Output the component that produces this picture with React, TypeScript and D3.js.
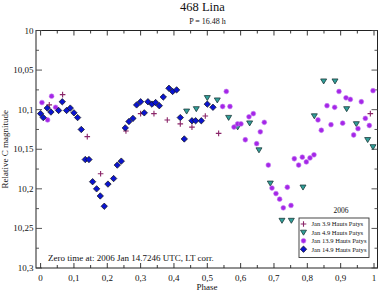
import React from "react";
import * as d3 from "d3";

const W = 378;
const H = 291;

// Jan 3.9 Hauts Patys (plus)
const jan03Phase = [0.026, 0.066, 0.14, 0.18, 0.256, 0.3, 0.34, 0.38, 0.419, 0.454, 0.494, 0.534, 0.989];
const jan03Mag = [10.094, 10.081, 10.134, 10.181, 10.127, 10.105, 10.105, 10.113, 10.118, 10.122, 10.108, 10.13, 10.105];

// Jan 4.9 Hauts Patys (triangle)
const jan04Phase = [0.438, 0.467, 0.5, 0.53, 0.564, 0.591, 0.627, 0.655, 0.689, 0.724, 0.752, 0.787, 0.821, 0.849, 0.883, 0.918, 0.947, 0.981, 0.997];
const jan04Mag = [10.102, 10.099, 10.085, 10.088, 10.11, 10.122, 10.117, 10.151, 10.193, 10.24, 10.24, 10.198, 10.108, 10.064, 10.064, 10.099, 10.118, 10.138, 10.147];

// Jan 13.9 Hauts Patys (circle)
const jan13Phase = [0.004, 0.021, 0.033, 0.045, 0.546, 0.557, 0.568, 0.58, 0.591, 0.601, 0.614, 0.625, 0.638, 0.648, 0.659, 0.671, 0.683, 0.694, 0.706, 0.717, 0.728, 0.74, 0.751, 0.761, 0.774, 0.785, 0.797, 0.808, 0.82, 0.832, 0.842, 0.859, 0.871, 0.882, 0.895, 0.906, 0.916, 0.929, 0.939, 0.952, 0.962, 0.974, 0.986, 0.997];
const jan13Mag = [10.091, 10.113, 10.083, 10.097, 10.096, 10.077, 10.096, 10.122, 10.118, 10.118, 10.138, 10.109, 10.105, 10.143, 10.128, 10.116, 10.17, 10.199, 10.206, 10.213, 10.224, 10.198, 10.221, 10.162, 10.17, 10.16, 10.166, 10.161, 10.157, 10.113, 10.126, 10.095, 10.119, 10.097, 10.077, 10.117, 10.085, 10.087, 10.132, 10.124, 10.09, 10.111, 10.12, 10.076];

// Jan 14.9 Hauts Patys (diamond)
const jan14Phase = [0.0, 0.008, 0.02, 0.031, 0.054, 0.065, 0.078, 0.089, 0.1, 0.111, 0.122, 0.134, 0.145, 0.156, 0.168, 0.179, 0.191, 0.202, 0.219, 0.23, 0.242, 0.254, 0.265, 0.277, 0.288, 0.3, 0.311, 0.322, 0.334, 0.345, 0.356, 0.368, 0.385, 0.396, 0.408, 0.419, 0.431, 0.454, 0.465, 0.482, 0.5, 0.517];
const jan14Mag = [10.105, 10.11, 10.098, 10.103, 10.101, 10.09, 10.101, 10.098, 10.104, 10.11, 10.125, 10.163, 10.163, 10.191, 10.2, 10.209, 10.222, 10.194, 10.187, 10.17, 10.165, 10.123, 10.115, 10.111, 10.094, 10.09, 10.104, 10.09, 10.093, 10.091, 10.095, 10.084, 10.073, 10.077, 10.075, 10.11, 10.137, 10.114, 10.114, 10.114, 10.093, 10.097];

const xTicks = [0, 0.1, 0.2, 0.3, 0.4, 0.5, 0.6, 0.7, 0.8, 0.9, 1];
const xTickLabels = ["0", "0,1", "0,2", "0,3", "0,4", "0,5", "0,6", "0,7", "0,8", "0,9", "1"];
const yTicks = [10, 10.05, 10.1, 10.15, 10.2, 10.25, 10.3];
const yTickLabels = ["10", "10,05", "10,1", "10,15", "10,2", "10,25", "10,3"];
const legendLabels = ["Jan 3.9 Hauts Patys", "Jan 4.9 Hauts Patys", "Jan 13.9 Hauts Patys", "Jan 14.9 Hauts Patys"];

const FONT = "'Liberation Serif', 'DejaVu Serif', serif";
const C_PLUS = "#8a2468";
const C_TRI = "#2fa09a";
const C_CIRC = "#a526e8";
const C_DIAM = "#0a14d0";

const left = 36;
const right = 377.5;
const top = 30.5;
const bottom = 268;

const x = d3.scaleLinear().domain([0, 1]).range([40.6, 374]);
const y = d3.scaleLinear().domain([10, 10.3]).range([top, bottom]);

const Plus = ({ cx, cy }: { cx: number; cy: number }) => (
  <path d={`M${cx - 2.8},${cy}H${cx + 2.8}M${cx},${cy - 2.8}V${cy + 2.8}`} stroke={C_PLUS} strokeWidth={1.1} fill="none" />
);
const Tri = ({ cx, cy }: { cx: number; cy: number }) => (
  <path d={`M${cx - 3},${cy - 2.2}L${cx + 3},${cy - 2.2}L${cx},${cy + 2.8}Z`} fill={C_TRI} stroke="#1d3a3a" strokeWidth={0.8} />
);
const Circ = ({ cx, cy }: { cx: number; cy: number }) => (
  <circle cx={cx} cy={cy} r={2.4} fill={C_CIRC} stroke="#c27af0" strokeWidth={0.6} />
);
const Diam = ({ cx, cy }: { cx: number; cy: number }) => (
  <path d={`M${cx},${cy - 3.2}L${cx + 3.2},${cy}L${cx},${cy + 3.2}L${cx - 3.2},${cy}Z`} fill={C_DIAM} stroke="#111" strokeWidth={0.7} />
);

export default function App() {
  const xMinor = d3.range(0, 1.0001, 0.05);
  const yMinor = d3.range(10, 10.3001, 0.025);
  return (
    <svg width={W} height={H} style={{ position: "absolute", left: 0, top: 0, background: "#fff" }} fontFamily={FONT}>
      <rect x={0} y={0} width={W} height={H} fill="#fff" />
      <text x={202.5} y={11} fontSize={12.5} textAnchor="middle" fill="#111">468 Lina</text>
      <text x={207.5} y={23.5} fontSize={8} textAnchor="middle" fill="#111">P = 16.48 h</text>

      {/* frame */}
      <rect x={left} y={top} width={right - left} height={bottom - top} fill="none" stroke="#222" strokeWidth={1} />

      {/* x ticks */}
      {xMinor.map((t, i) => {
        const major = i % 2 === 0;
        const len = major ? 5 : 3;
        const px = x(t);
        return (
          <g key={"xt" + i}>
            <line x1={px} x2={px} y1={top} y2={top + len} stroke="#222" strokeWidth={0.9} />
            <line x1={px} x2={px} y1={bottom} y2={bottom - len} stroke="#222" strokeWidth={0.9} />
          </g>
        );
      })}
      {/* y ticks */}
      {yMinor.map((t, i) => {
        const major = i % 2 === 0;
        const len = major ? 6 : 3;
        const py = y(t);
        return (
          <g key={"yt" + i}>
            <line x1={left} x2={left + len} y1={py} y2={py} stroke="#444" strokeWidth={0.9} />
            <line x1={right} x2={right - len} y1={py} y2={py} stroke="#444" strokeWidth={0.9} />
          </g>
        );
      })}
      {xTicks.map((t, i) => (
        <text key={"xl" + i} x={x(t)} y={281} fontSize={9} textAnchor="middle" fill="#111">{xTickLabels[i]}</text>
      ))}
      {yTicks.map((t, i) => (
        <text key={"yl" + i} x={33.5} y={y(t) + 3} fontSize={9} textAnchor="end" fill="#111">{yTickLabels[i]}</text>
      ))}
      <text x={207} y={290} fontSize={9} textAnchor="middle" fill="#111">Phase</text>
      <text transform={`translate(8,${(top + bottom) / 2}) rotate(-90)`} fontSize={9} textAnchor="middle" fill="#111">Relative C magnitude</text>

      <text x={48} y={261} fontSize={9} fill="#111">Zero time at: 2006 Jan 14.7246 UTC, LT corr.</text>

      {/* data */}
      {jan03Phase.map((p, i) => <Plus key={"a" + i} cx={x(p)} cy={y(jan03Mag[i])} />)}
      {jan04Phase.map((p, i) => <Tri key={"b" + i} cx={x(p)} cy={y(jan04Mag[i])} />)}
      {jan13Phase.map((p, i) => <Circ key={"c" + i} cx={x(p)} cy={y(jan13Mag[i])} />)}
      {jan14Phase.map((p, i) => <Diam key={"d" + i} cx={x(p)} cy={y(jan14Mag[i])} />)}

      {/* legend */}
      <text x={341} y={213} fontSize={7.5} textAnchor="middle" fill="#111">2006</text>
      <rect x={299} y={218} width={70} height={39.5} fill="#fff" stroke="#333" strokeWidth={0.9} />
      {legendLabels.map((lab, i) => {
        const ly = 224 + i * 8.4;
        return (
          <g key={"lg" + i}>
            {i === 0 && <Plus cx={303.5} cy={ly} />}
            {i === 1 && <Tri cx={303.5} cy={ly} />}
            {i === 2 && <Circ cx={303.5} cy={ly} />}
            {i === 3 && <Diam cx={303.5} cy={ly} />}
            <text x={311.5} y={ly + 2.3} fontSize={6.6} fill="#111">{lab}</text>
          </g>
        );
      })}
    </svg>
  );
}
